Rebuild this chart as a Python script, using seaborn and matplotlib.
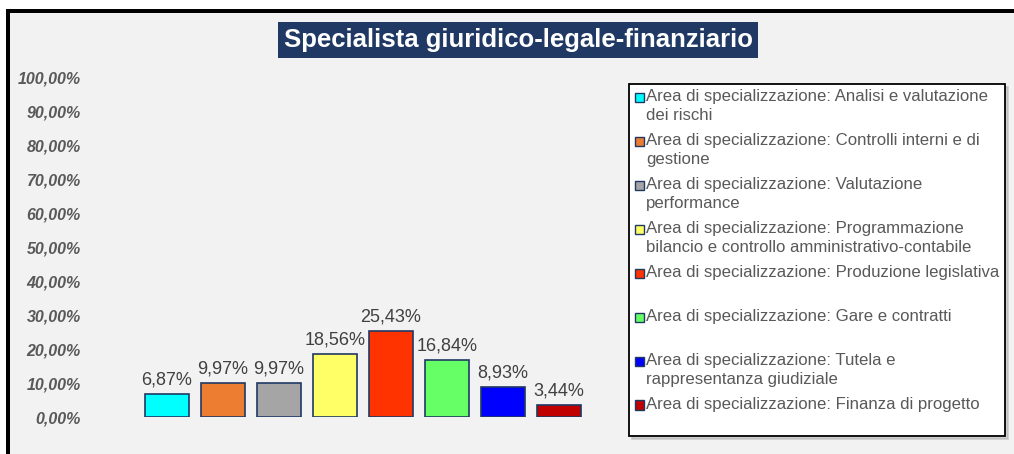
import matplotlib
matplotlib.use("Agg")
import matplotlib.pyplot as plt
import matplotlib.patches as mpatches
from matplotlib.legend_handler import HandlerPatch
from matplotlib.font_manager import FontProperties
import seaborn as sns
import pandas as pd

# ---------------- data ----------------
title = "Specialista giuridico-legale-finanziario"
categories = [
    "Analisi e valutazione dei rischi",
    "Controlli interni e di gestione",
    "Valutazione performance",
    "Programmazione bilancio e controllo amministrativo-contabile",
    "Produzione legislativa",
    "Gare e contratti",
    "Tutela e rappresentanza giudiziale",
    "Finanza di progetto",
]
values = [6.87, 9.97, 9.97, 18.56, 25.43, 16.84, 8.93, 3.44]
value_labels = ["6,87%", "9,97%", "9,97%", "18,56%", "25,43%", "16,84%", "8,93%", "3,44%"]
legend_labels = [
    "Area di specializzazione: Analisi e valutazione\ndei rischi",
    "Area di specializzazione: Controlli interni e di\ngestione",
    "Area di specializzazione: Valutazione\nperformance",
    "Area di specializzazione: Programmazione\nbilancio e controllo amministrativo-contabile",
    "Area di specializzazione: Produzione legislativa\n ",
    "Area di specializzazione: Gare e contratti\n ",
    "Area di specializzazione: Tutela e\nrappresentanza giudiziale",
    "Area di specializzazione: Finanza di progetto\n ",
]
colors = ["#00FFFF", "#ED7D31", "#A5A5A5", "#FFFF66", "#FF3300", "#66FF66", "#0000FF", "#C00000"]
yticks = [0, 10, 20, 30, 40, 50, 60, 70, 80, 90, 100]
ytick_labels = ["0,00%", "10,00%", "20,00%", "30,00%", "40,00%", "50,00%",
                "60,00%", "70,00%", "80,00%", "90,00%", "100,00%"]

# ---------------- style ----------------
sns.set_style("white")
FONT = "Liberation Sans"
plt.rcParams["font.family"] = [FONT, "DejaVu Sans"]

W, H, DPI = 1014, 454, 100
fig = plt.figure(figsize=(W / DPI, H / DPI), dpi=DPI, facecolor="white")

# chart area background and frame
fig.add_artist(mpatches.Rectangle((6 / W, 0), 1, 1 - 9 / H, transform=fig.transFigure,
                                  facecolor="#F2F2F2", edgecolor="none", zorder=-10))
fig.add_artist(mpatches.Rectangle((6 / W, 0), 4 / W, 1 - 9 / H, transform=fig.transFigure,
                                  facecolor="black", edgecolor="none", zorder=-9))
fig.add_artist(mpatches.Rectangle((6 / W, 1 - 13 / H), 1, 4 / H, transform=fig.transFigure,
                                  facecolor="black", edgecolor="none", zorder=-9))

ax_l, ax_r, ax_t, ax_b = 139, 587, 78, 417
ax = fig.add_axes([ax_l / W, 1 - ax_b / H, (ax_r - ax_l) / W, (ax_b - ax_t) / H])
ax.set_facecolor("none")

df = pd.DataFrame({"cat": categories, "val": values})
sns.barplot(data=df, x="cat", y="val", hue="cat", palette=colors, order=categories,
            hue_order=categories, width=0.786, edgecolor="#1F3864", linewidth=1.2,
            legend=False, saturation=1, ax=ax)

for cont, lab in zip(ax.containers, value_labels):
    ax.bar_label(cont, labels=[lab], padding=4, fontsize=13, color="#404040")

ax.set_xlim(-0.5, len(categories) - 0.5)
ax.set_ylim(0, 100)
ax.set_yticks(yticks)
ax.set_yticklabels(ytick_labels, fontsize=11.5, fontweight="bold", fontstyle="italic",
                   color="#595959")
ax.tick_params(axis="y", length=0, pad=41.8)
ax.set_xticks([])
ax.set_xlabel("")
ax.set_ylabel("")
for s in ax.spines.values():
    s.set_visible(False)
ax.grid(False)

# title
fig.text(518 / W, 1 - 40 / H, title, ha="center", va="center", color="white",
         fontsize=18.5, fontweight="bold",
         bbox=dict(boxstyle="square,pad=0.22", facecolor="#1F3864", edgecolor="none"))

# legend
LEG_FS = 12.05
LS = 1.3
renderer = fig.canvas.get_renderer()
fp = FontProperties(family=FONT, size=LEG_FS)
_, lp_h, lp_d = renderer.get_text_width_height_descent("lp", fp, ismath=False)
gap_px = lp_d + (lp_h - lp_d) * LS
shift_pt = 0.5 * (gap_px + lp_d) * 72 / DPI


class FirstLineSquare(HandlerPatch):
    def create_artists(self, legend, orig_handle, xdescent, ydescent, width, height,
                       fontsize, trans):
        s = 0.55 * fontsize
        p = mpatches.Rectangle((-xdescent + (width - s) / 2, shift_pt - 0.03 * fontsize), s, s,
                               facecolor=orig_handle.get_facecolor(),
                               edgecolor=orig_handle.get_edgecolor(),
                               linewidth=1.0, transform=trans)
        return [p]


handles = [mpatches.Patch(facecolor=c, edgecolor="#1F3864") for c in colors]
leg = fig.legend(handles, legend_labels, loc="upper left",
                 bbox_to_anchor=(629 / W, 1 - 84 / H), bbox_transform=fig.transFigure,
                 fontsize=LEG_FS, frameon=True, fancybox=False, borderpad=0.32,
                 handlelength=0.6, handleheight=0.7, handletextpad=0.12,
                 labelspacing=0.62, borderaxespad=0,
                 handler_map={mpatches.Patch: FirstLineSquare()},
                 shadow={"shade": 0.3, "alpha": 0.55})
leg.get_frame().set_edgecolor("black")
leg.get_frame().set_linewidth(1.3)
leg.get_frame().set_facecolor("white")
for t in leg.get_texts():
    t.set_color("#595959")
    t.set_linespacing(LS)

fig.savefig("out.png", dpi=DPI, facecolor="white")
